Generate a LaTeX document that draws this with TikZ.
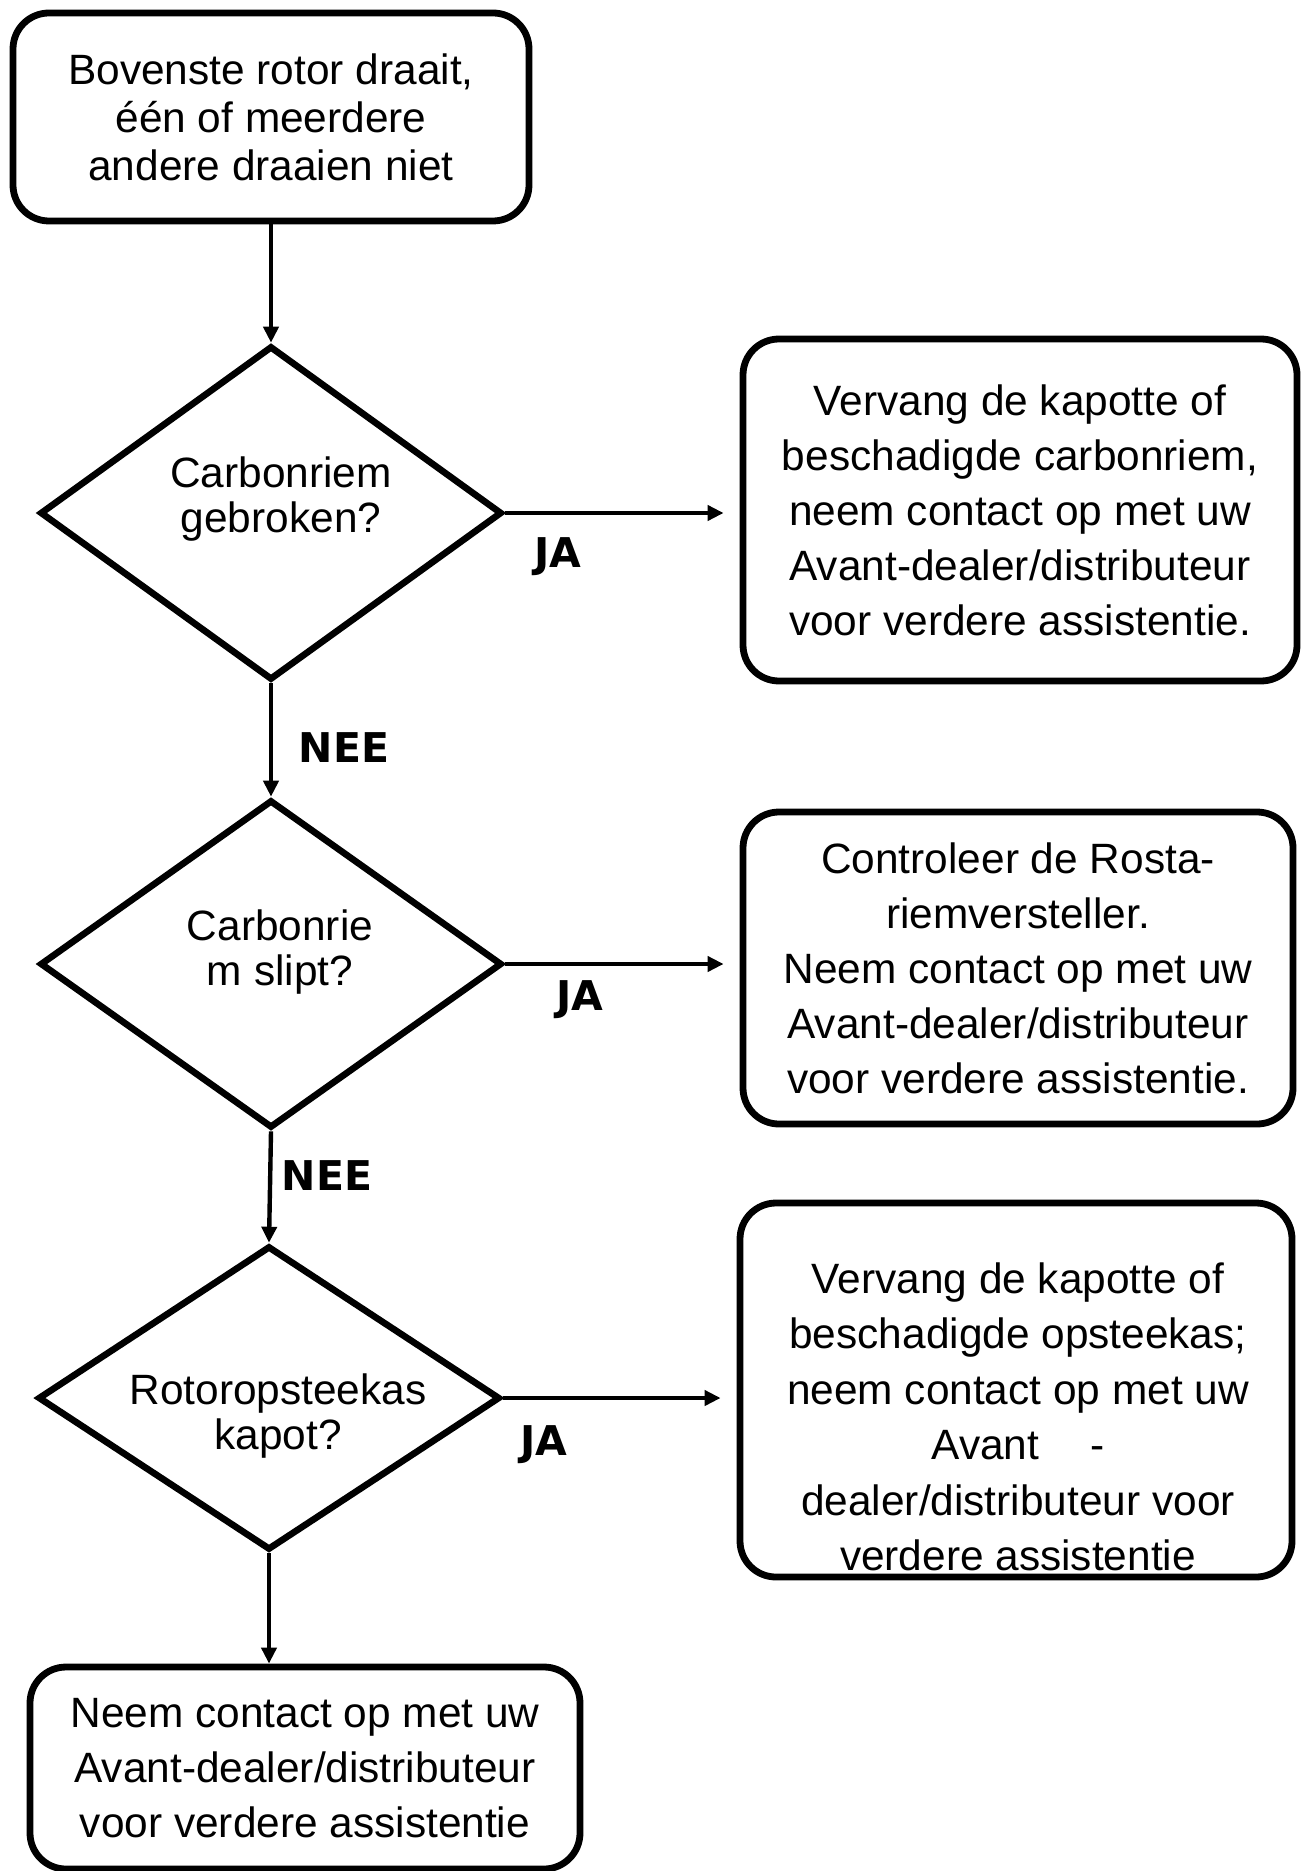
\documentclass[tikz,border=0pt]{standalone}
\usepackage{fontspec}
\setmainfont{Liberation Sans}
\newfontfamily\heavyfont{DejaVu Sans}
\usetikzlibrary{arrows.meta,shapes.geometric,positioning,calc}

\begin{document}
\begin{tikzpicture}[
  x=0.5pt,y=-0.5pt,
  box/.style={draw,line width=3.4pt,rounded corners=18pt,align=center,inner sep=0pt,font=\fontsize{21.2}{27.5}\selectfont},
  dec/.style={draw,diamond,line width=3.3pt,inner sep=0pt,minimum width=231pt},
  dectext/.style={align=center,inner sep=0pt,font=\fontsize{21.2}{22.5}\selectfont},
  answer/.style={inner sep=0pt,font=\heavyfont\bfseries\fontsize{20.5}{20.5}\selectfont},
  arr/.style={line width=2.2pt,-{Triangle[length=8pt,width=7.5pt]}}]
  \useasboundingbox (0,0) rectangle (1304,1871);
  \node[box,minimum width=258pt,minimum height=104pt,font=\fontsize{21.2}{24}\selectfont](start) at(271,117){Bovenste rotor draait,\\één of meerdere\\andere draaien niet};
  \node[dec,minimum height=167pt](q1) at(271,513){};
  \node[dectext](q1t) at(281,499){Carbonriem\\gebroken?};
  \node[dec,minimum height=164pt](q2) at(271,964){};
  \node[dectext](q2t) at(280,952){Carbonrie\\m slipt?};
  \node[dec,minimum height=152pt](q3) at(269,1398){};
  \node[dectext](q3t) at(278,1416){Rotoropsteekas\\kapot?};
  \node[box,minimum width=277pt,minimum height=171pt](fix1) at(1020,510){Vervang de kapotte of\\beschadigde carbonriem,\\neem contact op met uw\\Avant-dealer/distributeur\\voor verdere assistentie.};
  \node[box,minimum width=275pt,minimum height=156pt](fix2) at(1018,968){Controleer de Rosta-\\riemversteller.\\Neem contact op met uw\\Avant-dealer/distributeur\\voor verdere assistentie.};
  \node[box,minimum width=276pt,minimum height=187pt](fix3) at(1016,1390){};
  \node[align=center,inner sep=0pt,font=\fontsize{21.2}{27.75}\selectfont](fix3t) at(1018,1417){Vervang de kapotte of\\beschadigde opsteekas;\\neem contact op met uw\\Avant\hspace{1.2em}-\\dealer/distributeur voor\\verdere assistentie};
  \node[box,minimum width=275pt,minimum height=101pt](dealer) at(305,1768){Neem contact op met uw\\Avant-dealer/distributeur\\voor verdere assistentie};
  \node[answer](ja1) at(558,557){JA};
  \node[answer](ja2) at(580,1000){JA};
  \node[answer](ja3) at(544,1445){JA};
  \node[answer](nee1) at(344,748){NEE};
  \node[answer](nee2) at(327,1176){NEE};
  \draw[arr](start.south -| q1.north)--(q1.north);
  \draw[arr](q1.south)--(q2.north);
  \draw[arr](q2.south)--(q3.north);
  \draw[arr](q3.south)--(q3.south |- dealer.north);
  \draw[arr,shorten >=8pt](q1.east)--(q1.east -| fix1.west);
  \draw[arr,shorten >=8pt](q2.east)--(q2.east -| fix2.west);
  \draw[arr,shorten >=8pt](q3.east)--(q3.east -| fix3.west);
\end{tikzpicture}
\end{document}
